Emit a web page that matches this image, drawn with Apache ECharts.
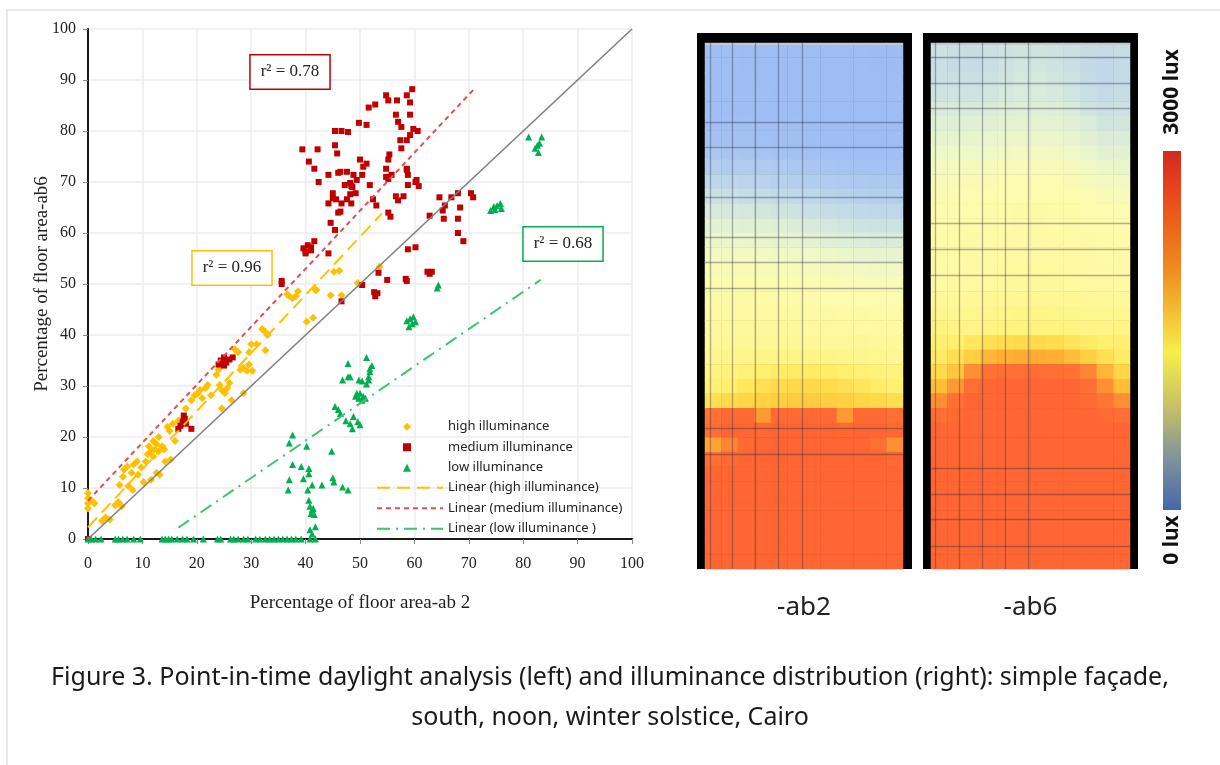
<!DOCTYPE html>
<html>
<head>
<meta charset="utf-8">
<title>Point-in-time daylight analysis</title>
<script src="https://cdn.jsdelivr.net/npm/echarts@6/dist/echarts.min.js"></script>
<style>
	html, body { margin: 0; padding: 0; background: #fff; }
	#main { width: 1220px; height: 765px; }
</style>
</head>
<body>
<div id="main"></div>
<script>
// scatter values: [ab2 %, ab6 %]
var highData = [
	[0,6],[0,7],[0,8],[0,9],[0.6,7.6],[1.2,7],
	[2.6,3.6],[3.2,4.2],[4,3.8],
	[5,6.6],[5.6,7.2],[6.2,6.4],[5.8,10.6],[6.4,12.2],[6.6,13.6],[7.2,14.2],[7.4,10.4],
	[8,13],[8.4,14.6],[9,15.2],[9.2,12.6],[9.8,14],[8.2,9.6],
	[10.2,11.2],[10.6,15.2],[11,16.6],[11.2,18.2],[11.6,17.2],[12,19.2],[12.2,17.6],[12.6,18.6],[13,17.2],[13,20],[12,16.2],
	[13.6,18.2],[14,17.6],[12.6,13],[13.2,12.6],[11.6,11.6],[14.2,15.2],[15.2,15.6],[14.6,22],[15,21.2],[15.6,22.6],
	[17,22.6],[17.4,23.6],[18,25.6],[19,27.2],[19.6,28.2],[20.2,28.6],[20.6,29.2],[21,27.6],[21.6,29.6],[22,30.2],[22.6,28.2],[16,19.2],[16.6,23.2],
	[23.6,32.2],[24,33.2],[24.2,30.2],[24.6,29.2],[25.2,28.6],[25.6,29.6],[26,30.6],[24.6,25.6],[26.4,27.2],[27,37.2],[27.6,36.6],
	[28,33.2],[28.6,33.6],[29.2,33],[29.6,34.2],[30.2,33],[28.6,28.6],[29.6,36.6],[30,38.2],[31,38.2],[32,41.2],[32.6,40.6],[33,40],[32.6,37],
	[36.6,48],[37,47.6],[37.6,47.2],[38.2,47.6],[38.6,48.6],[40.2,42.6],[41.4,43.4],[41.8,48.8],[45.2,52.4],[46.2,52.6],
	[44.6,47.8],[46.6,47.8],[42,48.8],[49.6,50.2],[53.6,53.4]
];
var mediumData = [
	[0,0],
	[16.6,21.6],[17,22.2],[17.4,23],[17.8,23.6],[18,22.6],[17.6,24.2],[19,21.6],
	[24,34.2],[24.4,35],[25,35.6],[25.4,34.6],[26,35.2],[26.6,35.6],[25,34],[24.6,34.6],
	[35.6,50],[35.6,50.6],
	[39.6,57],[40,56.4],[40.4,57.6],[41,56.6],[40,56],[41,57.2],[41.6,58.4],[44.2,56],
	[46.6,46.6],
	[50.4,49.8],[52.8,47.6],[53.2,48.2],[52.6,48.4],[53.4,52.2],[55,50.8],[58.4,51],[58.6,50.6],[62.4,52.4],[63.2,52.4],[62.8,52],
	[58.8,56.8],[60.2,57.2],[68,60],[69,58.4],
	[64.6,67],[65.6,65.4],[65.2,64.4],[66.8,67],[68,67.8],[68.4,65],[70.8,67],[70.4,67.8],[62.8,63.4],[65.4,62.8],[68,62.8],
	[39.4,76.4],[40.6,74],[41.6,72.6],[42.2,76.4],[42.4,70],[44.2,71.4],[45,67.8],[44.2,65.8],[45.6,66.6],[46,64],
	[45.4,80],[46.6,80],[45.4,77.2],[45.8,75.6],[46,71.8],[47.6,72],[48.2,69.8],[48.6,69],
	[47.8,79.8],[49.8,81.6],[51.2,81.2],[51.6,84.6],[52.8,85.2],[54.8,87],[55.2,86],[56.8,86],[58.6,87],[59.6,88.2],[59.2,85.6],
	[56.6,83.2],[57,81.8],[57.6,80.8],[59.2,83.2],[59.8,80.4],[60.6,80],[57.4,78.2],[57.6,76.6],[58.6,78.2],[59.2,79.2],
	[50,74.4],[50.6,73],[51.2,73.6],[50.4,71.4],[48.8,71.4],[49.4,70.4],[48.4,69.2],[47.2,69.4],[48.2,67.6],[49.2,67.8],[46.4,72],[51.8,69.4],
	[55.4,75.4],[55.2,74.4],[54.8,72.6],[55.2,70.6],[55.8,71.4],[58.6,72.6],[58.8,71.4],[60.4,70.4],[60.8,69.2],[58.8,69.4],
	[45,66.8],[46.6,65.8],[47.6,66.6],[48.4,65.8],[46.4,64.2],[44.6,62],[45.4,60.6],[55.2,64],[55.6,63.2],[56.6,67.2],[58,67.2],[57,66.4],
	[54.8,71],[58.6,72.4],[60.2,70],[52.4,66.6],[53,65.4]
];
var lowData = [
	[0,0],[0.6,0],[1.4,0],[2.4,0],[5,0],[5.6,0],[6.4,0],[7.2,0],[8.4,0],[9.6,0],[13.6,0],[14.2,0],[14.8,0],[15.4,0],[16.4,0],
	[17.4,0],[18.2,0],[19.4,0],[21.2,0],[23.8,0],[24.4,0],[26.2,0],[26.8,0],[27.6,0],[28.6,0],[29.4,0],[30.8,0],[31.6,0],
	[32.6,0],[33.4,0],[34.2,0],[35,0],[35.8,0],[36.6,0],[37.4,0],[38.2,0],[39.2,0],[40.8,0],[41.8,0],
	[37.6,20.4],[37,18.8],[40.2,18.2],[37.6,14.6],[39.2,14.2],[40.6,13.8],[40.6,12.8],[37,11.6],[39.6,11.8],[36.8,9.6],
	[40.4,9.6],[41.2,10.6],[40.6,7.6],[40.8,6.4],[41.2,5.8],[41.6,4.8],[41,5],[41.4,6],[41.8,2.4],[40.8,1.8],[41.2,1],
	[43,10.6],[44.8,17.2],[45,12],[45.2,11.2],[46.8,10.2],[47.8,9.6],
	[45.4,26],[46,25.4],[46.4,24.6],[46.8,31.2],[47.8,31.8],[47.8,34.4],[48.2,31.8],[47.4,23.2],[48.2,22.6],[48.6,21.6],[48.8,24],[49.6,23],[50,22.4],
	[49.2,28],[49.4,28.6],[49.8,27.6],[50,28.6],[50.4,27.2],[50.6,28],[51,27.6],[49.8,31.2],[50.4,31],[51.2,30.4],[51.6,31.8],
	[51.8,32.8],[52.2,34],[51.2,35.6],[51.8,33.4],[51.6,31.2],
	[58.6,42.8],[59.2,43.2],[59.8,43.6],[60.2,42.6],[59,41.6],[59.6,42.2],
	[64.4,49.8],[64.2,49.2],
	[74,64.4],[74.6,65.2],[75.2,65.4],[75.8,65.8],[74.8,64.6],[76,64.8],
	[81,78.8],[82.6,77.2],[82.2,76.6],[82.8,75.8],[83.4,78.8],[83,77.6]
];

// end points of the fitted lines and the 1:1 line
var trendHigh = [[0, 2.3], [54, 63.8]];
var trendMedium = [[0, 7.5], [71.3, 88.6]];
var trendLow = [[16.6, 2.2], [83.2, 50.8]];
var diagonal = [[0, 0], [100, 100]];

var seriesNames = ['high illuminance', 'medium illuminance', 'low illuminance'];
var trendNames = ['Linear (high illuminance)', 'Linear (medium illuminance)', 'Linear (low illuminance )'];
var rSquared = ['r\u00b2 = 0.96', 'r\u00b2 = 0.78', 'r\u00b2 = 0.68'];

// illuminance (lux) per cell, top row first, 12 columns
var heatCols = ['0','1','2','3','4','5','6','7','8','9','10','11'];
var heatRowNames = [];
for (var i = 0; i < 36; i++) heatRowNames.push(String(i));

var ab2Rows = [
	[60,50,40,40,30,30,30,30,20,20,10,10],
	[60,50,40,40,30,30,30,30,20,20,10,10],
	[60,50,50,40,40,30,30,30,20,20,20,20],
	[70,60,50,50,40,40,30,30,30,20,20,20],
	[80,70,60,50,50,40,40,30,30,30,20,20],
	[100,90,80,70,60,50,40,40,30,30,30,30],
	[180,160,140,120,100,80,70,60,50,40,40,40],
	[320,300,280,250,220,180,150,130,110,100,90,90],
	[460,440,420,400,370,330,300,270,240,210,200,200],
	[620,600,580,560,520,480,440,410,380,350,330,330],
	[780,760,740,720,680,640,600,560,520,490,470,470],
	[930,920,900,880,850,810,770,730,690,650,630,630],
	[1080,1070,1060,1040,1010,980,940,900,860,820,800,800],
	[1210,1210,1200,1180,1160,1140,1100,1060,1020,990,970,970],
	[1330,1330,1320,1310,1290,1270,1250,1220,1190,1160,1140,1140],
	[1430,1430,1420,1410,1400,1390,1370,1350,1330,1300,1290,1290],
	[1500,1500,1500,1490,1490,1480,1470,1450,1430,1420,1410,1410],
	[1560,1560,1560,1550,1550,1540,1530,1520,1510,1500,1490,1490],
	[1610,1610,1610,1610,1610,1600,1590,1580,1570,1560,1550,1550],
	[1650,1660,1660,1660,1660,1650,1640,1630,1620,1610,1600,1600],
	[1700,1710,1720,1720,1720,1720,1710,1700,1690,1680,1670,1660],
	[1760,1780,1800,1820,1830,1830,1820,1810,1800,1780,1760,1740],
	[1850,1880,1920,1980,2020,2040,2040,2020,1980,1940,1900,1860],
	[1920,1980,2080,2150,2200,2220,2220,2200,2150,2100,2020,1950],
	[2150,2200,2250,2280,2300,2320,2320,2300,2280,2250,2220,2180],
	[2850,2950,2950,2600,2950,2950,2950,2950,2600,2950,2950,2900],
	[2900,3000,3000,2950,3000,3000,3000,3000,2950,3000,3000,2950],
	[2550,2700,2950,3000,3000,3000,3000,3000,3000,3000,2900,2650],
	[2900,2950,3000,3000,3000,3000,3000,3000,3000,3000,3000,2950],
	[3000,3000,3000,3000,3000,3000,3000,3000,3000,3000,3000,3000],
	[3000,3000,3000,3000,3000,3000,3000,3000,3000,3000,3000,3000],
	[3000,3000,3000,3000,3000,3000,3000,3000,3000,3000,3000,3000],
	[3000,3000,3000,3000,3000,3000,3000,3000,3000,3000,3000,3000],
	[3000,3000,3000,3000,3000,3000,3000,3000,3000,3000,3000,3000],
	[3000,3000,3000,3000,3000,3000,3000,3000,3000,3000,3000,3000],
	[3000,3000,3000,3000,3000,3000,3000,3000,3000,3000,3000,3000]
];
var ab6Rows = [
	[800,760,740,780,820,850,850,820,780,720,700,740],
	[760,720,720,760,820,860,860,820,760,680,640,700],
	[780,760,760,800,860,900,900,860,800,700,650,700],
	[850,830,850,880,920,950,950,920,860,760,700,740],
	[940,930,940,960,1000,1020,1020,1000,950,850,780,800],
	[1040,1030,1040,1060,1090,1110,1110,1090,1050,950,860,880],
	[1140,1140,1150,1170,1190,1200,1200,1190,1150,1060,960,980],
	[1240,1240,1250,1270,1290,1300,1300,1290,1250,1170,1080,1080],
	[1330,1340,1350,1370,1390,1400,1400,1390,1360,1280,1200,1180],
	[1400,1410,1420,1440,1460,1470,1470,1460,1440,1380,1320,1300],
	[1450,1460,1480,1500,1510,1520,1520,1510,1500,1460,1420,1400],
	[1490,1500,1520,1540,1550,1560,1560,1550,1540,1510,1480,1470],
	[1520,1530,1550,1560,1570,1580,1580,1570,1560,1540,1520,1510],
	[1540,1550,1560,1570,1580,1590,1590,1580,1570,1560,1550,1540],
	[1560,1570,1580,1590,1600,1600,1600,1600,1590,1580,1570,1560],
	[1580,1590,1600,1610,1620,1630,1630,1620,1610,1600,1590,1580],
	[1610,1620,1630,1640,1650,1660,1660,1650,1640,1630,1620,1610],
	[1660,1670,1690,1710,1720,1730,1730,1720,1710,1690,1670,1660],
	[1760,1750,1760,1780,1800,1810,1810,1800,1780,1760,1750,1760],
	[1850,1820,1820,1850,1870,1870,1870,1870,1850,1820,1820,1850],
	[1950,1980,2080,2150,2180,2200,2200,2180,2120,2050,1980,1950],
	[2050,2150,2300,2450,2500,2520,2520,2500,2420,2300,2150,2050],
	[2200,2350,2650,2850,2900,2900,2900,2900,2850,2700,2450,2250],
	[2400,2600,2900,3000,3000,3000,3000,3000,3000,2900,2650,2400],
	[2650,2850,3000,3000,3000,3000,3000,3000,3000,2950,2800,2650],
	[2900,2950,3000,3000,3000,3000,3000,3000,3000,3000,2950,2900],
	[3000,3000,3000,3000,3000,3000,3000,3000,3000,3000,3000,3000],
	[3000,3000,3000,3000,3000,3000,3000,3000,3000,3000,3000,3000],
	[3000,3000,3000,3000,3000,3000,3000,3000,3000,3000,3000,3000],
	[3000,3000,3000,3000,3000,3000,3000,3000,3000,3000,3000,3000],
	[3000,3000,3000,3000,3000,3000,3000,3000,3000,3000,3000,3000],
	[3000,3000,3000,3000,3000,3000,3000,3000,3000,3000,3000,3000],
	[3000,3000,3000,3000,3000,3000,3000,3000,3000,3000,3000,3000],
	[3000,3000,3000,3000,3000,3000,3000,3000,3000,3000,3000,3000],
	[3000,3000,3000,3000,3000,3000,3000,3000,3000,3000,3000,3000],
	[3000,3000,3000,3000,3000,3000,3000,3000,3000,3000,3000,3000]
];

// window frame shadow lines, % of panel width / height
var ab2VLines = [2.5, 14, 25.3, 37, 49];
var ab2HLines = [15, 19.8, 29.3, 36.9, 41.7, 46.7, 73.3, 78.1];
var ab6VLines = [2, 14, 25.6, 37.2, 48.8];
var ab6HLines = [2.7, 7.6, 12.4, 34.3, 39.2, 44.2, 80.8, 85.7, 90.5, 95.6];

var panelNames = ['-ab2', '-ab6'];
var luxLabels = ['3000 lux', '0 lux'];
var caption = 'Figure 3. Point-in-time daylight analysis (left) and illuminance distribution (right): simple fa\u00e7ade,\nsouth, noon, winter solstice, Cairo';

var serif = '"Liberation Serif", "Times New Roman", serif';
var sans = '"Noto Sans", "Open Sans", sans-serif';

var toCells = function (rows) {
	var res = [];
	for (var r = 0; r < rows.length; r++) {
		for (var c = 0; c < rows[r].length; c++) {
			res.push([c, r, rows[r][c]]);
		}
	}
	return res;
};
var toMarks = function (vals, key) {
	return vals.map(function (v) { var o = {}; o[key] = v; return o; });
};

var chart = echarts.init(document.getElementById('main'));

var hiddenCat = function (gridIndex, data, name) {
	return {
		type: 'category', gridIndex: gridIndex, data: data,
		axisLine: {show: false}, axisTick: {show: false}, axisLabel: {show: false}, splitLine: {show: false},
		name: name, nameLocation: 'middle', nameGap: 26,
		nameTextStyle: {fontFamily: sans, fontSize: 26, color: '#222'}
	};
};
var overlayAxis = function (gridIndex, inverse) {
	return {type: 'value', gridIndex: gridIndex, min: 0, max: 100, inverse: inverse, show: false};
};
var frameLine = function (xIdx, yIdx, v, h) {
	return {
		type: 'line', xAxisIndex: xIdx, yAxisIndex: yIdx, data: [], silent: true,
		markLine: {
			silent: true, symbol: 'none', label: {show: false}, animation: false,
			lineStyle: {color: 'rgba(40,40,70,0.36)', width: 1.3, type: 'solid'},
			data: toMarks(v, 'xAxis').concat(toMarks(h, 'yAxis'))
		}
	};
};
var legendText = {fontFamily: sans, fontSize: 13, color: '#222', lineHeight: 15.5};

var option = {
	backgroundColor: '#fff',
	animation: false,
	title: {
		text: caption,
		left: 'center',
		top: 653,
		textStyle: {fontFamily: sans, fontSize: 25, fontWeight: 'normal', color: '#1a1a1a', lineHeight: 40}
	},
	legend: [{
		// marker legend: small symbols, text pushed right to line up with the line legend
		orient: 'vertical', left: 398, top: 414,
		itemWidth: 8, itemHeight: 8, itemGap: 5,
		data: seriesNames,
		textStyle: Object.assign({padding: [0, 0, 0, 32]}, legendText)
	}, {
		orient: 'vertical', left: 371, top: 475,
		itemWidth: 66, itemHeight: 14, itemGap: 5,
		itemStyle: {opacity: 0},
		data: trendNames,
		textStyle: legendText
	}],
	grid: [
		{left: 88, top: 29, right: 588, bottom: 226},
		{left: 705, top: 43, width: 198, height: 526},
		{left: 931, top: 43, width: 199, height: 526}
	],
	xAxis: [{
		type: 'value', gridIndex: 0, min: 0, max: 100, interval: 10,
		name: 'Percentage of floor area-ab 2', nameLocation: 'middle', nameGap: 55,
		nameTextStyle: {fontFamily: serif, fontSize: 19, color: '#222'},
		axisLine: {lineStyle: {color: '#888', width: 2}},
		axisTick: {show: true, length: 5, lineStyle: {color: '#888'}},
		axisLabel: {fontFamily: serif, fontSize: 16, color: '#222', margin: 17},
		splitLine: {lineStyle: {color: '#ececec', width: 1.5}}
	}, {
		type: 'value', gridIndex: 0, min: 0, max: 100, position: 'top',
		axisLine: {show: true, lineStyle: {color: '#1a1a1a', width: 2}},
		axisTick: {show: false}, axisLabel: {show: false}, splitLine: {show: false}
	},
	hiddenCat(1, heatCols, panelNames[0]),
	hiddenCat(2, heatCols, panelNames[1]),
	overlayAxis(1, false),
	overlayAxis(2, false)],
	yAxis: [{
		type: 'value', gridIndex: 0, min: 0, max: 100, interval: 10,
		name: 'Percentage of floor area-ab6', nameLocation: 'middle', nameGap: 36,
		nameMoveOverlap: false,
		nameTextStyle: {fontFamily: serif, fontSize: 19, color: '#222'},
		axisLine: {show: true, lineStyle: {color: '#888', width: 2}},
		axisTick: {show: true, length: 5, lineStyle: {color: '#888'}},
		axisLabel: {fontFamily: serif, fontSize: 16, color: '#222', margin: 12},
		splitLine: {lineStyle: {color: '#ececec', width: 1.5}}
	}, {
		type: 'value', gridIndex: 0, min: 0, max: 100, position: 'right',
		axisLine: {show: true, lineStyle: {color: '#1a1a1a', width: 2}},
		axisTick: {show: false}, axisLabel: {show: false}, splitLine: {show: false}
	}, {
		type: 'category', gridIndex: 1, data: heatRowNames, inverse: true, show: false
	}, {
		type: 'category', gridIndex: 2, data: heatRowNames, inverse: true, show: false
	},
	overlayAxis(1, true),
	overlayAxis(2, true)],
	visualMap: {
		type: 'continuous', show: false, min: 0, max: 3000, seriesIndex: [7, 8],
		inRange: {
			color: ['#9DBCF4', '#A6C4F1', '#B5D0EC', '#C8DEE4', '#DDEED8', '#EFF8C8', '#FDFBAE',
				'#FFF692', '#FFEF6A', '#FFD645', '#FFAE33', '#FF7A33', '#FF6633']
		}
	},
	series: [{
		type: 'line', data: diagonal, symbol: 'none', silent: true,
		lineStyle: {color: '#808080', width: 1.6}
	}, {
		name: trendNames[0], type: 'line', data: trendHigh, symbol: 'none', z: 4,
		itemStyle: {color: '#FFC000'},
		lineStyle: {color: '#FFC000', width: 2, type: [13, 7]}
	}, {
		name: trendNames[1], type: 'line', data: trendMedium, symbol: 'none', z: 4,
		itemStyle: {color: '#E05050'},
		lineStyle: {color: '#E05050', width: 2, type: [5, 4]}
	}, {
		name: trendNames[2], type: 'line', data: trendLow, symbol: 'none', z: 4,
		itemStyle: {color: '#3CC46E'},
		lineStyle: {color: '#3CC46E', width: 2, type: [13, 6, 2, 6]}
	}, {
		name: seriesNames[0], type: 'scatter', data: highData, symbol: 'diamond', symbolSize: 8,
		itemStyle: {color: '#FFC000', opacity: 1}
	}, {
		name: seriesNames[1], type: 'scatter', data: mediumData, symbol: 'rect', symbolSize: 6,
		itemStyle: {color: '#C00000', opacity: 1}
	}, {
		name: seriesNames[2], type: 'scatter', data: lowData, symbol: 'triangle', symbolSize: 7,
		itemStyle: {color: '#00B050', opacity: 1}
	}, {
		type: 'heatmap', xAxisIndex: 2, yAxisIndex: 2, data: toCells(ab2Rows), silent: true
	}, {
		type: 'heatmap', xAxisIndex: 3, yAxisIndex: 3, data: toCells(ab6Rows), silent: true
	},
	frameLine(4, 4, ab2VLines, ab2HLines),
	frameLine(5, 5, ab6VLines, ab6HLines)],
	graphic: [
		// page frame
		{type: 'rect', shape: {x: 7, y: 10, width: 1230, height: 800}, style: {fill: null, stroke: '#e2e2e2', lineWidth: 1.5}, silent: true},
		// r² boxes
		{type: 'text', x: 232, y: 268, z: 10, style: {text: rSquared[0], align: 'center', verticalAlign: 'middle', font: '17px ' + serif, fill: '#222', backgroundColor: '#fff', borderColor: '#FFC000', borderWidth: 1.5, padding: [8, 10]}},
		{type: 'text', x: 290, y: 72, z: 10, style: {text: rSquared[1], align: 'center', verticalAlign: 'middle', font: '17px ' + serif, fill: '#222', backgroundColor: '#fff', borderColor: '#C00000', borderWidth: 1.5, padding: [8, 10]}},
		{type: 'text', x: 563, y: 244, z: 10, style: {text: rSquared[2], align: 'center', verticalAlign: 'middle', font: '17px ' + serif, fill: '#222', backgroundColor: '#fff', borderColor: '#00B050', borderWidth: 1.5, padding: [8, 10]}},
		// black panel frames, thin grey edge along the top of each picture
		{type: 'rect', shape: {x: 697, y: 33, width: 215, height: 536}, style: {fill: '#000'}, z: -1, silent: true},
		{type: 'rect', shape: {x: 923, y: 33, width: 215, height: 536}, style: {fill: '#000'}, z: -1, silent: true},
		{type: 'rect', shape: {x: 705, y: 43, width: 198, height: 2}, style: {fill: '#c8c8c8'}, z: 5, silent: true},
		{type: 'rect', shape: {x: 931, y: 43, width: 199, height: 2}, style: {fill: '#c8c8c8'}, z: 5, silent: true},
		// colour bar
		{type: 'rect', shape: {x: 1163, y: 151, width: 18, height: 359}, silent: true,
			style: {fill: new echarts.graphic.LinearGradient(0, 0, 0, 1, [
				{offset: 0, color: '#D42A1E'}, {offset: 0.12, color: '#E8481C'}, {offset: 0.32, color: '#F0881E'},
				{offset: 0.56, color: '#F6EE4A'}, {offset: 0.72, color: '#C4BE68'}, {offset: 0.86, color: '#7D929C'},
				{offset: 1, color: '#4866AA'}])}},
		{type: 'text', x: 1172, y: 92, rotation: Math.PI / 2, style: {text: luxLabels[0], align: 'center', verticalAlign: 'middle', font: 'bold 21px ' + sans, fill: '#111'}},
		{type: 'text', x: 1172, y: 540, rotation: Math.PI / 2, style: {text: luxLabels[1], align: 'center', verticalAlign: 'middle', font: 'bold 21px ' + sans, fill: '#111'}}
	]
};

chart.setOption(option);
</script>
</body>
</html>
